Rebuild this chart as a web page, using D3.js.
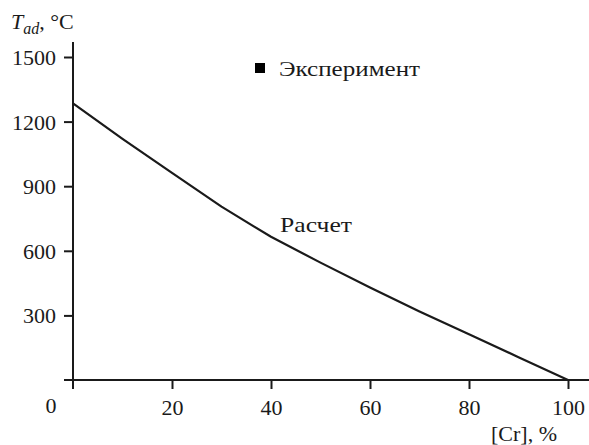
<!DOCTYPE html>
<html>
<head>
<meta charset="utf-8">
<script src="https://cdn.jsdelivr.net/npm/d3@7"></script>
<style>
  html, body { margin: 0; padding: 0; background: #fff; }
  svg text { font-family: "Liberation Serif", "Times New Roman", serif; fill: #1a1a1a; }
</style>
</head>
<body>
<svg id="chart" width="589" height="445"></svg>
<script>
// Calculated adiabatic temperature vs chromium content
const crPercent = [0, 10, 20, 30, 40, 50, 60, 70, 80, 90, 100];
const tadCalc   = [1285, 1120, 962, 805, 665, 545, 430, 318, 212, 106, 0];

const xTicks = [20, 40, 60, 80, 100];
const yTicks = [300, 600, 900, 1200, 1500];

const svg = d3.select("#chart");
const ink = "#1a1a1a";
const serif = "Liberation Serif, Times New Roman, serif";

const x = d3.scaleLinear().domain([0, 100]).range([73, 568]);
const y = d3.scaleLinear().domain([0, 1500]).range([380, 57]);

function styleAxis(g) {
  g.attr("font-family", serif).attr("font-size", 22);
  g.select(".domain").remove();
  g.selectAll(".tick line").attr("stroke", ink).attr("stroke-width", 2);
  g.selectAll(".tick text").attr("fill", ink)
    .style("font-family", serif).style("font-size", "22px");
}

// y axis
const yAxis = d3.axisLeft(y).tickValues(yTicks).tickFormat(d3.format("d"))
  .tickSize(9).tickPadding(8);
const gy = svg.append("g").attr("transform", `translate(${x(0)},0)`).call(yAxis);
styleAxis(gy);
gy.selectAll(".tick text").attr("dy", "0.34em");

// x axis
const xAxis = d3.axisBottom(x).tickValues(xTicks).tickFormat(d3.format("d"))
  .tickSize(9).tickPadding(10);
const gx = svg.append("g").attr("transform", `translate(0,${y(0)})`).call(xAxis);
styleAxis(gx);
gx.selectAll(".tick text").attr("dy", "0.72em");

// axis lines, extended past the origin
svg.append("line").attr("x1", x(0)).attr("x2", x(0))
  .attr("y1", 42).attr("y2", y(0) + 9)
  .attr("stroke", ink).attr("stroke-width", 2);
svg.append("line").attr("x1", x(0) - 9).attr("x2", 589)
  .attr("y1", y(0)).attr("y2", y(0))
  .attr("stroke", ink).attr("stroke-width", 2);

// common origin label
svg.append("text").attr("x", 51).attr("y", 413)
  .attr("text-anchor", "middle").attr("font-size", 22).text("0");

// calculated curve
const line = d3.line().x((d, i) => x(crPercent[i])).y(d => y(d));
svg.append("path").datum(tadCalc)
  .attr("d", line).attr("fill", "none")
  .attr("stroke", ink).attr("stroke-width", 2.2).attr("stroke-linejoin", "round");

svg.append("text").attr("x", 280).attr("y", 232)
  .attr("font-size", 22).attr("textLength", 72).attr("lengthAdjust", "spacingAndGlyphs")
  .text("Расчет");

// legend
svg.append("rect").attr("x", 255).attr("y", 63).attr("width", 10).attr("height", 10).attr("fill", "#000");
svg.append("text").attr("x", 279).attr("y", 76)
  .attr("font-size", 22).attr("textLength", 141).attr("lengthAdjust", "spacingAndGlyphs")
  .text("Эксперимент");

// y axis title: T_ad, °C
const yt = svg.append("text").attr("x", 11).attr("y", 29).attr("font-size", 22);
yt.append("tspan").attr("font-style", "italic").text("T");
yt.append("tspan").attr("font-style", "italic").attr("font-size", 16).attr("dy", 5).text("ad");
yt.append("tspan").attr("dy", -5).text(", °C");

// x axis title
svg.append("text").attr("x", 557).attr("y", 441)
  .attr("text-anchor", "end").attr("font-size", 22).text("[Cr], %");
</script>
</body>
</html>
